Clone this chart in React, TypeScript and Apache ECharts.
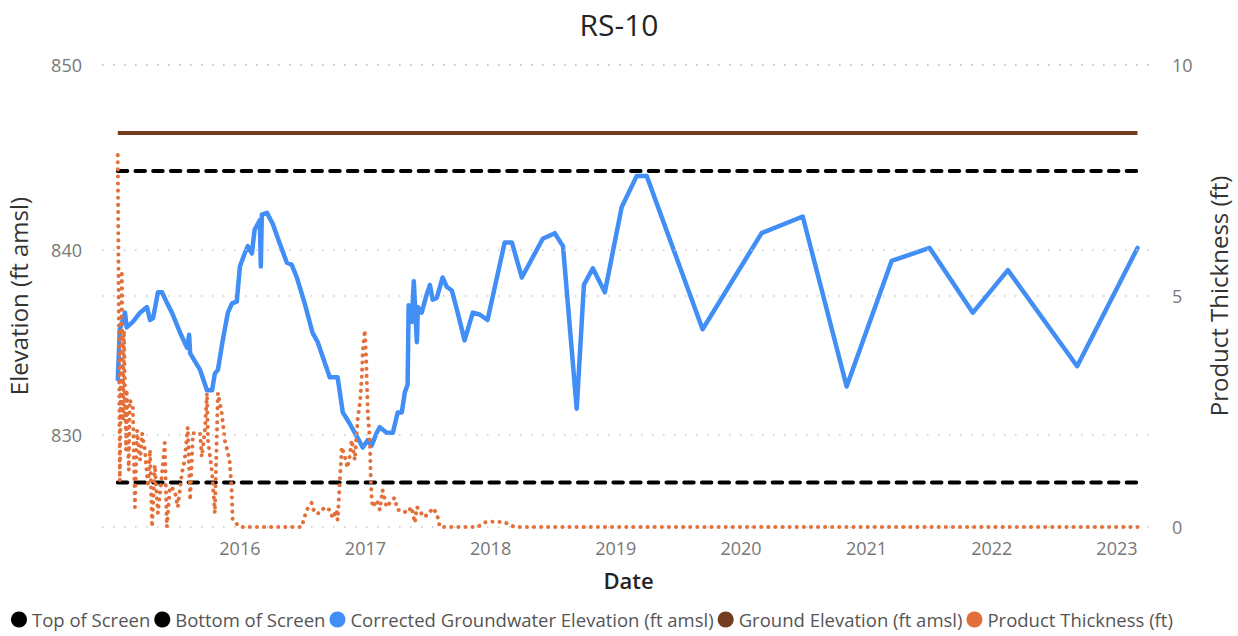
import React, { useEffect, useRef } from 'react';
import * as echarts from 'echarts';

const FONT = '"Segoe UI", "Open Sans", "Noto Sans", sans-serif';
const DAY = 24 * 3600 * 1000;

// Reference levels (ft amsl)
const topOfScreen = 844.27;
const bottomOfScreen = 827.41;
const groundElevation = 846.32;
const levelDates = ['2015-01-10', '2023-03-02'];

// Corrected groundwater elevation (ft amsl)
const gwDates = [
  '2015-01-10', '2015-01-16', '2015-01-31', '2015-02-05', '2015-02-23', '2015-03-16', '2015-04-05',
  '2015-04-14', '2015-04-23', '2015-05-07', '2015-05-19', '2015-06-03', '2015-06-17', '2015-07-11',
  '2015-07-31', '2015-08-06', '2015-08-09', '2015-09-07', '2015-09-27', '2015-10-12', '2015-10-20',
  '2015-10-29', '2015-11-12', '2015-11-27', '2015-12-09', '2015-12-23', '2016-01-01', '2016-01-15',
  '2016-01-24', '2016-02-05', '2016-02-13', '2016-02-28', '2016-03-02', '2016-03-05', '2016-03-20',
  '2016-04-06', '2016-04-27', '2016-05-17', '2016-05-31', '2016-06-15', '2016-07-08', '2016-07-31',
  '2016-08-15', '2016-09-19', '2016-10-12', '2016-10-27', '2016-11-16', '2016-12-10', '2016-12-24',
  '2017-01-08', '2017-01-19', '2017-02-03', '2017-02-12', '2017-03-04', '2017-03-22', '2017-04-05',
  '2017-04-17', '2017-04-26', '2017-05-04', '2017-05-07', '2017-05-16', '2017-05-22', '2017-05-31',
  '2017-06-03', '2017-06-14', '2017-06-29', '2017-07-08', '2017-07-16', '2017-07-28', '2017-08-14',
  '2017-08-26', '2017-09-10', '2017-09-27', '2017-10-17', '2017-11-10', '2017-11-30', '2017-12-23',
  '2018-02-11', '2018-03-04', '2018-04-02', '2018-06-02', '2018-07-07', '2018-07-31', '2018-09-09',
  '2018-09-30', '2018-10-26', '2018-11-30', '2019-01-18', '2019-03-03', '2019-04-01', '2019-09-11',
  '2020-03-01', '2020-06-29', '2020-11-04', '2021-03-15', '2021-07-04', '2021-11-07', '2022-02-17',
  '2022-09-07', '2023-03-02',
];
const gwValues = [
  833.0, 835.7, 836.6, 835.8, 836.1, 836.6, 836.9,
  836.2, 836.3, 837.7, 837.7, 837.1, 836.6, 835.5,
  834.7, 835.4, 834.4, 833.5, 832.4, 832.4, 833.3,
  833.5, 835.1, 836.6, 837.1, 837.2, 839.1, 839.8,
  840.2, 839.8, 841.1, 841.6, 839.1, 841.9, 842.0,
  841.4, 840.3, 839.3, 839.2, 838.5, 837.1, 835.5,
  835.0, 833.1, 833.1, 831.2, 830.6, 829.8, 829.3,
  829.7, 829.4, 830.1, 830.4, 830.1, 830.1, 831.2,
  831.2, 832.3, 832.7, 837.0, 836.1, 838.3, 835.0,
  836.9, 836.6, 837.6, 838.1, 837.3, 837.4, 838.5,
  838.0, 837.8, 836.6, 835.1, 836.6, 836.5, 836.2,
  840.4, 840.4, 838.5, 840.6, 840.9, 840.2, 831.4,
  838.1, 839.0, 837.7, 842.3, 844.0, 844.0, 835.7,
  840.9, 841.8, 832.6, 839.4, 840.1, 836.6, 838.9,
  833.7, 840.1,
];

// Product thickness (ft)
const ptDates = [
  '2015-01-10', '2015-01-16', '2015-01-22', '2015-01-25', '2015-01-28', '2015-02-03', '2015-02-05',
  '2015-02-11', '2015-02-14', '2015-02-23', '2015-03-01', '2015-03-07', '2015-03-16', '2015-03-22',
  '2015-03-30', '2015-04-08', '2015-04-14', '2015-04-20', '2015-04-28', '2015-05-07', '2015-05-19',
  '2015-05-27', '2015-06-02', '2015-06-11', '2015-06-25', '2015-07-04', '2015-07-16', '2015-07-24',
  '2015-08-02', '2015-08-09', '2015-08-17', '2015-09-07', '2015-09-12', '2015-09-21', '2015-09-27',
  '2015-09-30', '2015-10-12', '2015-10-20', '2015-10-29', '2015-11-09', '2015-11-18', '2015-12-02',
  '2015-12-08', '2015-12-11', '2016-01-01', '2016-03-01', '2016-06-29', '2016-07-14', '2016-07-28',
  '2016-08-06', '2016-08-21', '2016-09-04', '2016-09-19', '2016-09-28', '2016-10-09', '2016-10-12',
  '2016-10-18', '2016-10-24', '2016-11-02', '2016-11-10', '2016-11-16', '2016-11-22', '2016-12-01',
  '2016-12-10', '2016-12-16', '2016-12-22', '2016-12-24', '2016-12-30', '2017-01-03', '2017-01-05',
  '2017-01-08', '2017-01-14', '2017-01-16', '2017-01-19', '2017-01-22', '2017-02-03', '2017-02-12',
  '2017-02-20', '2017-03-04', '2017-03-19', '2017-03-27', '2017-04-05', '2017-04-20', '2017-05-01',
  '2017-05-16', '2017-05-25', '2017-05-31', '2017-06-09', '2017-06-17', '2017-07-02', '2017-07-16',
  '2017-07-28', '2017-08-06', '2017-11-24', '2017-12-15', '2018-01-13', '2018-02-11', '2018-03-12',
  '2018-07-07', '2019-03-03', '2020-03-01', '2021-03-15', '2022-02-17', '2023-03-02',
];
const ptValues = [
  8.05, 1.0, 5.55, 2.3, 4.25, 1.67, 2.97,
  1.23, 2.75, 2.6, 0.43, 2.1, 1.45, 2.03,
  1.67, 0.87, 1.67, 0.0, 1.34, 0.3, 1.17,
  1.82, 0.0, 0.87, 0.8, 0.43, 1.17, 1.45,
  2.16, 0.58, 2.03, 2.03, 1.52, 2.1, 2.9,
  1.88, 1.17, 0.3, 2.9, 2.47, 1.88, 1.45,
  0.8, 0.15, 0.0, 0.0, 0.0, 0.37, 0.52,
  0.3, 0.3, 0.43, 0.37, 0.19, 0.37, 0.15,
  0.95, 1.73, 1.52, 1.28, 1.52, 1.88, 1.45,
  2.38, 2.68, 3.33, 3.77, 4.26, 3.68, 3.18,
  2.47, 1.88, 1.17, 0.65, 0.43, 0.58, 0.37,
  0.8, 0.43, 0.58, 0.63, 0.37, 0.37, 0.3,
  0.43, 0.09, 0.43, 0.37, 0.22, 0.26, 0.41,
  0.3, 0.0, 0.0, 0.1, 0.12, 0.1, 0.0,
  0.0, 0.0, 0.0, 0.0, 0.0, 0.0,
];

const leftTicks = [830, 840, 850];
const axisMin = '2014-11-25';
const axisMax = '2023-04-22';

const ts = (s: string) => new Date(s + 'T00:00:00Z').getTime();
const pairs = (dates: string[], values: number[]) => dates.map((d, i) => [ts(d), values[i]]);
const level = (v: number) => levelDates.map((d) => [ts(d), v]);

export default function App() {
  const ref = useRef<HTMLDivElement>(null);

  useEffect(() => {
    if (!ref.current) return;
    const chart = echarts.init(ref.current, null, { renderer: 'svg' });
    const gridLine = { color: '#C8C8C8', width: 1.5, type: [1.5, 9.5] as any };
    const dashed = { color: '#000000', width: 4, type: [9.5, 8.2] as any, cap: 'round' as const };

    chart.setOption({
      animation: false,
      useUTC: true,
      backgroundColor: '#ffffff',
      textStyle: { fontFamily: FONT },
      title: {
        text: 'RS-10',
        left: 'center',
        top: 4,
        textStyle: { fontFamily: FONT, fontSize: 30, fontWeight: 'normal', color: '#252423' },
      },
      legend: {
        left: 6,
        bottom: 2,
        icon: 'circle',
        itemWidth: 16,
        itemHeight: 16,
        itemGap: 4,
        textStyle: { fontFamily: FONT, fontSize: 18.5, color: '#555555' },
        data: [
          'Top of Screen',
          'Bottom of Screen',
          'Corrected Groundwater Elevation (ft amsl)',
          'Ground Elevation (ft amsl)',
          'Product Thickness (ft)',
        ],
      },
      grid: { left: 102, right: 83, top: 65, bottom: 109, outerBoundsMode: 'none' },
      xAxis: {
        type: 'time',
        min: ts(axisMin),
        max: ts(axisMax),
        minInterval: 365 * DAY,
        maxInterval: 366 * DAY,
        name: 'Date',
        nameLocation: 'middle',
        nameGap: 42,
        nameTextStyle: { fontFamily: FONT, fontSize: 22, fontWeight: 600, color: '#252423' },
        axisLine: { show: false },
        axisTick: { show: false },
        splitLine: { show: false },
        axisLabel: {
          fontFamily: FONT,
          fontSize: 18,
          color: '#777777',
          margin: 12,
          showMinLabel: false,
          showMaxLabel: false,
          formatter: (v: number) => {
            const d = new Date(v);
            const y = d.getUTCFullYear();
            return d.getUTCMonth() === 0 && d.getUTCDate() === 1 && y > 2015 ? String(y) : '';
          },
        },
      },
      yAxis: [
        {
          type: 'value',
          min: 825,
          max: 850,
          interval: 5,
          name: 'Elevation (ft amsl)',
          nameLocation: 'middle',
          nameGap: 72,
          nameTextStyle: { fontFamily: FONT, fontSize: 24, color: '#333333' },
          axisLine: { show: false },
          axisTick: { show: false },
          splitLine: { show: false },
          axisLabel: {
            fontFamily: FONT,
            fontSize: 18,
            color: '#777777',
            margin: 20,
            formatter: (v: number) => (leftTicks.includes(v) ? String(v) : ''),
          },
        },
        {
          type: 'value',
          position: 'right',
          min: 0,
          max: 10,
          interval: 5,
          name: 'Product Thickness (ft)',
          nameLocation: 'middle',
          nameGap: 51,
          nameTextStyle: { fontFamily: FONT, fontSize: 24, color: '#333333' },
          axisLine: { show: false },
          axisTick: { show: false },
          splitLine: { show: true, lineStyle: gridLine },
          axisLabel: { fontFamily: FONT, fontSize: 18, color: '#777777', margin: 17 },
        },
      ],
      series: [
        {
          name: 'Top of Screen',
          type: 'line',
          yAxisIndex: 0,
          data: level(topOfScreen),
          showSymbol: false,
          symbol: 'none',
          itemStyle: { color: '#000000' },
          lineStyle: dashed,
          markLine: {
            silent: true,
            symbol: 'none',
            label: { show: false },
            lineStyle: gridLine,
            data: leftTicks.map((v) => ({ yAxis: v })),
          },
        },
        {
          name: 'Bottom of Screen',
          type: 'line',
          yAxisIndex: 0,
          data: level(bottomOfScreen),
          showSymbol: false,
          symbol: 'none',
          itemStyle: { color: '#000000' },
          lineStyle: dashed,
        },
        {
          name: 'Corrected Groundwater Elevation (ft amsl)',
          type: 'line',
          yAxisIndex: 0,
          data: pairs(gwDates, gwValues),
          showSymbol: false,
          symbol: 'none',
          itemStyle: { color: '#418FF6' },
          lineStyle: { color: '#418FF6', width: 4.5, join: 'round', cap: 'round' },
        },
        {
          name: 'Ground Elevation (ft amsl)',
          type: 'line',
          yAxisIndex: 0,
          data: level(groundElevation),
          showSymbol: false,
          symbol: 'none',
          itemStyle: { color: '#743D1F' },
          lineStyle: { color: '#743D1F', width: 4 },
        },
        {
          name: 'Product Thickness (ft)',
          type: 'line',
          yAxisIndex: 1,
          data: pairs(ptDates, ptValues),
          showSymbol: false,
          symbol: 'none',
          itemStyle: { color: '#E3703A' },
          lineStyle: { color: '#E3703A', width: 4, type: [0.1, 7] as any, cap: 'round', join: 'round' },
        },
      ],
    });

    return () => chart.dispose();
  }, []);

  return (
    <div
      ref={ref}
      style={{ position: 'fixed', left: 0, top: 0, width: 1238, height: 636, background: '#ffffff' }}
    />
  );
}
